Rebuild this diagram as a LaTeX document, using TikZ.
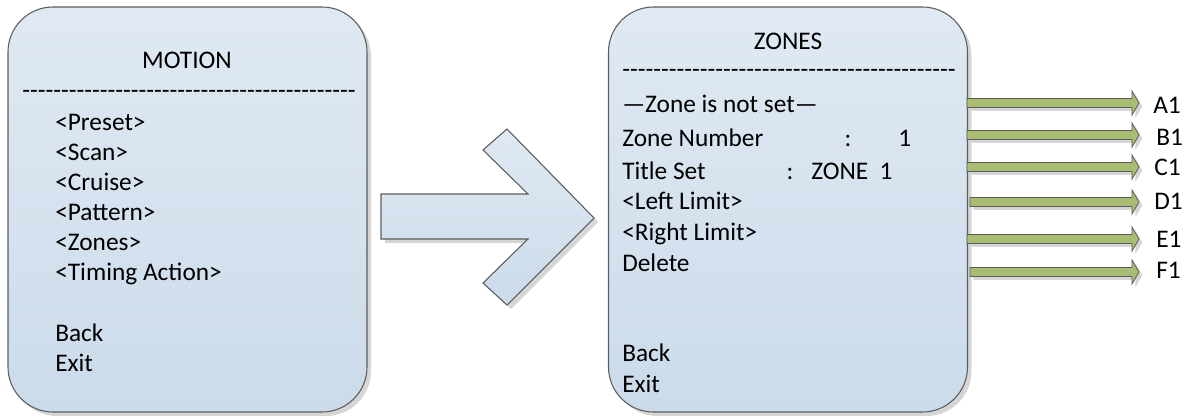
\documentclass[tikz,border=0pt]{standalone}
\usepackage{fontspec}
\setmainfont{Carlito}[Ligatures=TeXOff]
\usetikzlibrary{shadows}
\definecolor{boxtop}{HTML}{E0E9F3}
\definecolor{boxbot}{HTML}{CBDBEA}
\definecolor{edge}{HTML}{5C5C5C}
\definecolor{grn}{HTML}{A8BD71}
\definecolor{shade}{HTML}{D6D6D6}
\tikzset{
  menubox/.style={draw=edge, line width=0.8pt, rounded corners=33.75pt,
    top color=boxtop, bottom color=boxbot, inner sep=0pt,
    minimum width=269.25pt, minimum height=303.75pt,
    drop shadow={shadow xshift=3pt, shadow yshift=-3pt, fill=shade, opacity=1}},
  bigarrow/.style={draw=edge, line width=0.8pt, top color=boxtop, bottom color=boxbot,
    drop shadow={shadow xshift=3pt, shadow yshift=-3pt, fill=shade, opacity=1}},
  greenarrow/.style={draw=edge, line width=0.6pt, fill=grn,
    drop shadow={shadow xshift=2.5pt, shadow yshift=-2.5pt, fill=shade, opacity=1}},
  txt/.style={inner sep=0pt, anchor=base west, font=\fontsize{19}{23}\selectfont},
  ctxt/.style={inner sep=0pt, anchor=base, font=\fontsize{19}{23}\selectfont},
}
\begin{document}
\begin{tikzpicture}[x=0.75pt,y=-0.75pt]
\useasboundingbox (0,0) rectangle (1186,418);
% boxes
\node[menubox] (motion) at (187.5,209.5) {};
\node[menubox] (zones) at (788,209.5) {};
% big arrow
\coordinate (ta) at (381,194);
\draw[bigarrow] (ta) -- (528,194) -- (483,150) -- (507,129) -- (594,218) -- (507,305) -- (483,283) -- (528,239) -- (381,239) -- cycle;
% left texts
\node[ctxt] (mt) at (187,68) {MOTION};
\node[txt] (md) at (22,98) {-------------------------------------------};
\node[txt] (m1) at (55,130) {<Preset>};
\node[txt] (m2) at (55,160) {<Scan>};
\node[txt] (m3) at (55,190) {<Cruise>};
\node[txt] (m4) at (55,220) {<Pattern>};
\node[txt] (m5) at (55,250) {<Zones>};
\node[txt] (m6) at (55,280) {<Timing Action>};
\node[txt] (m7) at (55,341) {Back};
\node[txt] (m8) at (55,371) {Exit};
% right texts
\node[ctxt] (zt) at (788,49) {ZONES};
\node[txt] (zd) at (622,77) {-------------------------------------------};
\node[txt] (z0) at (622,112) {—Zone is not set—};
\node[txt] (z1) at (622,146) {Zone Number};
\node[ctxt] (z1c) at (848,146) {:};
\node[txt] (z1v) at (898,146) {1};
\node[txt] (z2) at (622,179) {Title Set};
\node[ctxt] (z2c) at (790,179) {:};
\node[txt] (z2v) at (811,179) {ZONE\hspace{0.45em}1};
\node[txt] (z3) at (622,209) {<Left Limit>};
\node[txt] (z4) at (622,240) {<Right Limit>};
\node[txt] (z5) at (622,271) {Delete};
\node[txt] (z6) at (622,361) {Back};
\node[txt] (z7) at (622,392) {Exit};
% green arrows and labels
\foreach \nm/\y/\xs/\lx/\ly in {A/103/967/1153/113, B/135/967/1156/145, C/167/967/1154/175, D/202/970/1154/209, E/239/967/1156/247, F/272/970/1156/278}{
  \draw[greenarrow] (\xs,\y-4.5) -- (1132,\y-4.5) -- (1132,\y-12) -- (1139,\y) -- (1132,\y+12) -- (1132,\y+4.5) -- (\xs,\y+4.5) -- cycle;
  \node[txt] (lab\nm) at (\lx,\ly) {\nm1};
}
\end{tikzpicture}
\end{document}
